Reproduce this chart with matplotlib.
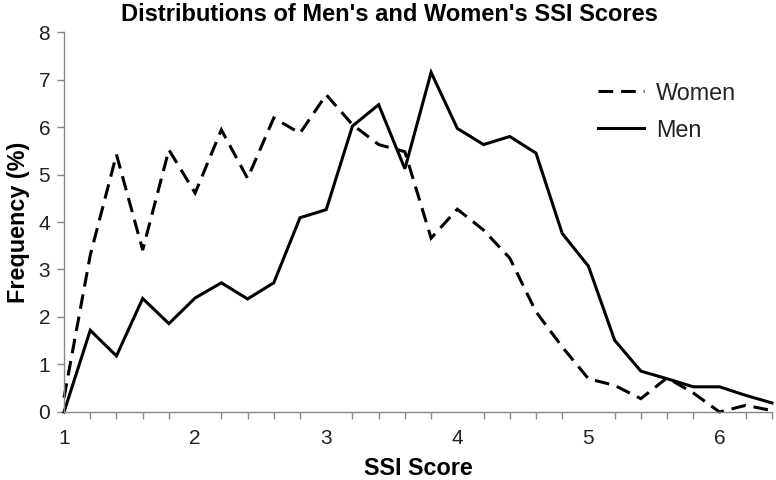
import matplotlib
matplotlib.use("Agg")
import matplotlib.pyplot as plt
import numpy as np

plt.rcParams['font.family'] = ['Liberation Sans', 'DejaVu Sans']

scores = [1.0, 1.2, 1.4, 1.6, 1.8, 2.0, 2.2, 2.4, 2.6, 2.8, 3.0, 3.2, 3.4, 3.6,
          3.8, 4.0, 4.2, 4.4, 4.6, 4.8, 5.0, 5.2, 5.4, 5.6, 5.8, 6.0, 6.2, 6.4]
women = [0.3, 3.3, 5.42, 3.41, 5.52, 4.61, 5.94, 4.92, 6.19, 5.87, 6.68, 6.05, 5.63, 5.48,
         3.66, 4.27, 3.83, 3.24, 2.11, 1.37, 0.70, 0.56, 0.28, 0.72, 0.40, 0.0, 0.14, 0.03]
men = [0.0, 1.72, 1.18, 2.39, 1.86, 2.40, 2.72, 2.38, 2.72, 4.09, 4.26, 6.02, 6.47, 5.12,
       7.15, 5.97, 5.63, 5.80, 5.45, 3.76, 3.07, 1.51, 0.86, 0.70, 0.53, 0.53, 0.35, 0.19]
xticks = [1, 2, 3, 4, 5, 6]
yticks = [0, 1, 2, 3, 4, 5, 6, 7, 8]

fig = plt.figure(figsize=(7.76, 4.8), dpi=100)
ax = fig.add_axes([0.0825, 0.1417, 0.9123, 0.7916])

ax.plot(scores, women, color='black', lw=2.2, dashes=(4.8, 2.6), label='Women',
        solid_joinstyle='miter', dash_joinstyle='miter', clip_on=False)
ax.plot(scores, men, color='black', lw=2.2, label='Men', solid_joinstyle='miter', clip_on=False)

ax.set_xlim(1, 6.4)
ax.set_ylim(0, 8)
ax.set_xticks(xticks)
ax.set_xticks(np.arange(1, 6.41, 0.2), minor=True)
ax.set_yticks(yticks)

gray = '#868686'
for s in ['top', 'right']:
    ax.spines[s].set_visible(False)
for s in ['left', 'bottom']:
    ax.spines[s].set_color(gray)
    ax.spines[s].set_linewidth(1.0)
ax.tick_params(axis='both', which='both', color=gray, direction='out', width=1.0)
ax.tick_params(axis='x', which='major', length=0, pad=12, labelsize=15)
ax.tick_params(axis='x', which='minor', length=5)
ax.tick_params(axis='y', which='major', length=5, pad=5, labelsize=15)
for lab in ax.get_xticklabels() + ax.get_yticklabels():
    lab.set_color('#222222')

ax.set_title("Distributions of Men's and Women's SSI Scores", fontsize=17,
             fontweight='bold', pad=8, x=0.46)
ax.set_xlabel('SSI Score', fontsize=16.8, fontweight='bold', labelpad=7)
ax.set_ylabel('Frequency (%)', fontsize=16.8, fontweight='bold', labelpad=6)

leg = ax.legend(loc='upper left', bbox_to_anchor=(0.724, 0.925), frameon=False,
                fontsize=16.8, handlelength=2.0, handletextpad=0.5, labelspacing=0.6)
for t in leg.get_texts():
    t.set_color('#222222')

fig.savefig('out.png', dpi=100)
